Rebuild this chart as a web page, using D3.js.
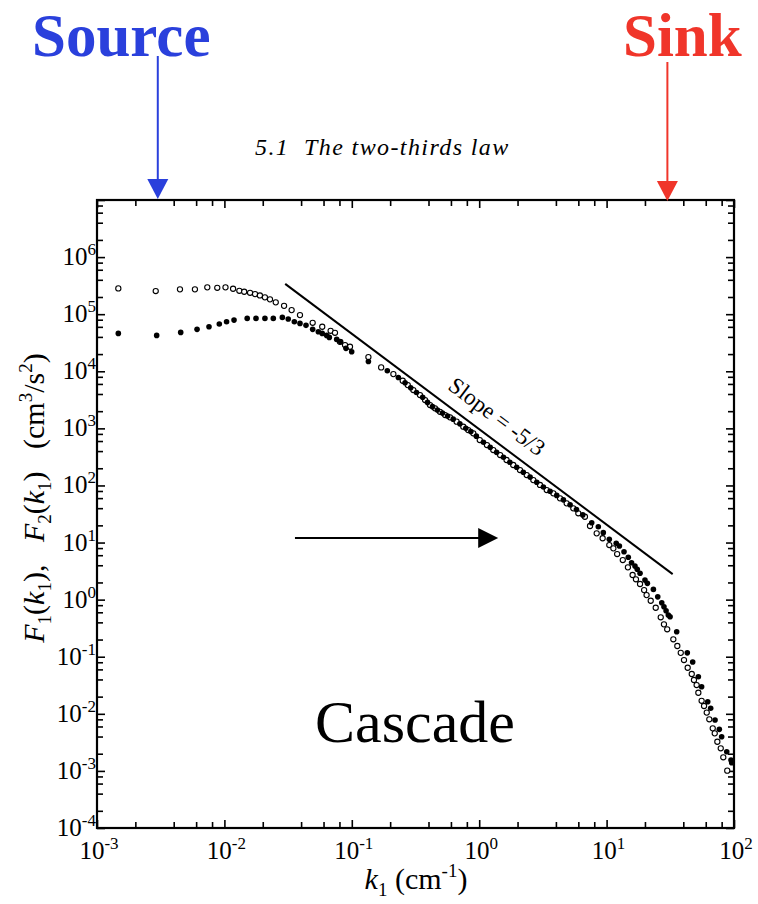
<!DOCTYPE html>
<html><head><meta charset="utf-8">
<script src="https://cdn.jsdelivr.net/npm/d3@7"></script>
<style>
body{margin:0;background:#fff}
svg{display:block}
text{font-family:"Liberation Serif","Times New Roman",serif;fill:#000}
</style>
</head><body>
<svg id="chart" width="758" height="904"></svg>
<script>
// ---------- data ----------
const xDecadeExps = [-3, -2, -1, 0, 1, 2];
const yDecadeExps = [-4, -3, -2, -1, 0, 1, 2, 3, 4, 5, 6];
const minorMultipliers = [2, 4, 6, 8];

// open circles
const openK = [1.47e-3,2.89e-3,4.48e-3,5.87e-3,7.34e-3,8.79e-3,1.02e-2,1.17e-2,1.31e-2,1.43e-2,1.59e-2,1.74e-2,1.90e-2,2.08e-2,2.28e-2,2.53e-2,2.94e-2,3.37e-2,3.92e-2,4.93e-2,5.86e-2,6.82e-2,7.38e-2,8.07e-2,8.85e-2,9.68e-2,
  0.135,0.170,0.212,0.251,0.275,0.304,0.343,0.376,0.411,0.450,0.492,0.540,0.590,0.665,0.750,0.820,0.899,1.01,1.15,1.29,1.46,1.64,1.85,2.09,2.36,2.66,3.00,3.39,3.82,4.31,4.86,5.48,6.00,
  6.76,7.41,8.36,9.31,10.5,11.3,12.1,13.4,14.7,16.0,17.0,18.3,19.7,20.6,22.2,24.3,26.6,28.2,29.9,33.4,35.9,38.2,40.5,43.3,46.6,48.5,50.9,52.5,55.7,58.2,61.1,64.0,68.1,70.6,74.0,78.7,82.4,88.5];
const openF = [2.83e5,2.54e5,2.72e5,2.72e5,2.95e5,2.90e5,2.95e5,2.79e5,2.57e5,2.47e5,2.37e5,2.25e5,2.13e5,1.97e5,1.82e5,1.61e5,1.40e5,1.18e5,9.64e4,7.07e4,6.02e4,5.12e4,4.72e4,3.28e4,2.88e4,2.69e4,
  1.77e4,1.17e4,8.93e3,6.82e3,5.73e3,4.69e3,3.83e3,3.13e3,2.56e3,2.24e3,1.95e3,1.71e3,1.56e3,1.31e3,1.07e3,933,817,624,510,417,341,279,228,186,152,124,102,83,72.8,59.4,48.6,39.7,32.5,
  28.3,19.5,14.5,11.9,9.04,7.91,6.29,4.94,3.68,2.70,2.27,1.88,1.47,1.20,0.957,0.721,0.490,0.369,0.302,0.202,0.154,0.117,0.0875,0.0641,0.0498,0.0391,0.0319,0.0234,0.0169,0.0137,0.0105,8.01e-3,5.57e-3,4.55e-3,3.24e-3,2.49e-3,1.73e-3,1.01e-3];

// filled circles
const filledK = [1.47e-3,2.94e-3,4.54e-3,6.10e-3,7.57e-3,9.12e-3,1.04e-2,1.19e-2,1.51e-2,1.77e-2,2.08e-2,2.42e-2,2.85e-2,3.17e-2,3.54e-2,3.92e-2,4.37e-2,4.93e-2,5.46e-2,5.86e-2,6.35e-2,6.66e-2,7.61e-2,8.18e-2,9.00e-2,9.98e-2,
  0.135,0.190,0.232,0.262,0.290,0.322,0.360,0.393,0.430,0.470,0.515,0.565,0.625,0.705,0.785,0.86,0.95,1.08,1.22,1.37,1.55,1.74,1.97,2.22,2.51,2.83,3.19,3.60,4.06,4.58,5.17,5.80,6.5,
  7.64,8.61,9.42,10.5,11.9,12.6,13.7,14.8,15.7,16.7,17.4,18.3,20.0,20.9,23.3,25.2,27.1,28.2,29.3,30.5,31.5,35.5,43.0,47.4,52.5,55.7,62.2,65.6,71.0,76.7,80.0,87.7,94.7,95.9];
const filledF = [4.61e4,4.25e4,4.80e4,5.42e4,6.02e4,6.71e4,7.36e4,7.88e4,8.44e4,8.44e4,8.44e4,8.44e4,8.79e4,8.21e4,7.36e4,6.90e4,6.37e4,5.42e4,4.92e4,4.61e4,4.25e4,3.92e4,3.62e4,3.29e4,2.52e4,2.20e4,
  1.48e4,1.02e4,7.8e3,6.3e3,5.15e3,4.25e3,3.5e3,2.85e3,2.4e3,2.1e3,1.85e3,1.65e3,1.45e3,1.2e3,1.0e3,880,730,570,465,380,312,255,208,170,140,114,94,79,67,56,46,38,30.5,
  22.2,18.9,14.9,11.4,9.68,8.69,6.90,5.51,4.43,3.87,3.40,2.89,2.20,1.93,1.51,1.12,0.883,0.751,0.640,0.537,0.501,0.274,0.117,0.0808,0.0447,0.0298,0.0163,0.0125,7.79e-3,5.35e-3,3.97e-3,2.17e-3,1.55e-3,1.39e-3];

// slope -5/3 reference line end points
const slopeK = [0.03, 33];
const slopeF = [3.4e5, 2.8];

// annotations
const sourceK = 3e-3, sinkK = 30;
const cascadeK = [0.0358, 1.41], cascadeF = 12;

// ---------- chart ----------
const svg = d3.select("#chart");
const x = d3.scaleLog().domain([1e-3, 1e2]).range([97, 734]);
const y = d3.scaleLog().domain([1e-4, 1e7]).range([828, 200]);
const [x0, x1] = x.range();
const [y0, y1] = y.range();

const majorX = xDecadeExps.map(e => Math.pow(10, e));
const minorX = [];
xDecadeExps.slice(0, -1).forEach(e => minorMultipliers.forEach(m => minorX.push(m * Math.pow(10, e))));
const yAllExps = yDecadeExps.concat([7]);
const majorY = yAllExps.map(e => Math.pow(10, e));
const minorY = [];
yAllExps.slice(0, -1).forEach(e => minorMultipliers.forEach(m => minorY.push(m * Math.pow(10, e))));

function drawAxis(axisFn, scale, values, size, transform) {
  const g = svg.append("g").attr("transform", transform)
    .call(axisFn(scale).tickValues(values).tickSize(-size).tickSizeOuter(0).tickFormat(""));
  g.select(".domain").remove();
  g.selectAll(".tick line").attr("stroke", "#000").attr("stroke-width", 1.6);
}
// ticks, inward on all four sides
drawAxis(d3.axisBottom, x, majorX, 8, `translate(0,${y0})`);
drawAxis(d3.axisBottom, x, minorX, 6, `translate(0,${y0})`);
drawAxis(d3.axisTop, x, majorX, 8, `translate(0,${y1})`);
drawAxis(d3.axisTop, x, minorX, 6, `translate(0,${y1})`);
drawAxis(d3.axisLeft, y, majorY, 8, `translate(${x0},0)`);
drawAxis(d3.axisLeft, y, minorY, 6, `translate(${x0},0)`);
drawAxis(d3.axisRight, y, majorY, 8, `translate(${x1},0)`);
drawAxis(d3.axisRight, y, minorY, 6, `translate(${x1},0)`);

// frame
svg.append("rect").attr("x", x0).attr("y", y1).attr("width", x1 - x0).attr("height", y0 - y1)
  .attr("fill", "none").attr("stroke", "#000").attr("stroke-width", 2.2);

// tick labels
function powLabel(g, exp) {
  g.append("tspan").text("10");
  g.append("tspan").attr("dy", -10).attr("font-size", 17).text(String(exp));
}
xDecadeExps.forEach(e => {
  const t = svg.append("text").attr("x", x(Math.pow(10, e)) + 2).attr("y", 859)
    .attr("text-anchor", "middle").attr("font-size", 25);
  powLabel(t, e);
});
yDecadeExps.forEach(e => {
  const t = svg.append("text").attr("x", 96).attr("y", y(Math.pow(10, e)) + 8)
    .attr("text-anchor", "end").attr("font-size", 25);
  powLabel(t, e);
});

// axis titles
const xt = svg.append("text").attr("x", 416).attr("y", 889).attr("text-anchor", "middle")
  .attr("font-size", 30).style("white-space", "pre");
xt.append("tspan").attr("font-style", "italic").text("k");
xt.append("tspan").attr("font-size", 19).attr("dy", 7).text("1");
xt.append("tspan").attr("dy", -7).text(" (cm");
xt.append("tspan").attr("font-size", 19).attr("dy", -12).text("-1");
xt.append("tspan").attr("dy", 12).text(")");

const yt = svg.append("text").attr("transform", "translate(44,498) rotate(-90)")
  .attr("text-anchor", "middle").attr("font-size", 30).style("white-space", "pre");
function sub(t, s) { t.append("tspan").attr("font-size", 19).attr("dy", 7).text(s); }
function sup(t, s) { t.append("tspan").attr("font-size", 19).attr("dy", -12).text(s); }
yt.append("tspan").attr("font-style", "italic").text("F");
sub(yt, "1");
yt.append("tspan").attr("dy", -7).text("(");
yt.append("tspan").attr("font-style", "italic").text("k");
sub(yt, "1");
yt.append("tspan").attr("dy", -7).text("),   ");
yt.append("tspan").attr("font-style", "italic").text("F");
sub(yt, "2");
yt.append("tspan").attr("dy", -7).text("(");
yt.append("tspan").attr("font-style", "italic").text("k");
sub(yt, "1");
yt.append("tspan").attr("dy", -7).text(")   (cm");
sup(yt, "3");
yt.append("tspan").attr("dy", 12).text("/s");
sup(yt, "2");
yt.append("tspan").attr("dy", 12).text(")");

// header text
svg.append("text").attr("x", 255).attr("y", 155).attr("font-size", 24).attr("font-style", "italic")
  .attr("letter-spacing", 1.4).style("white-space", "pre")
  .text("5.1  The two-thirds law");

// Source / Sink
const blue = "#2a40dc", red = "#f0352a";
svg.append("text").attr("x", 32).attr("y", 56).attr("font-size", 61).attr("font-weight", "bold")
  .style("fill", blue).text("Source");
svg.append("text").attr("x", 623).attr("y", 56).attr("font-size", 61).attr("font-weight", "bold")
  .style("fill", red).text("Sink");

function vArrow(cx, yTop, yTip, color) {
  svg.append("line").attr("x1", cx).attr("x2", cx).attr("y1", yTop).attr("y2", yTip - 16)
    .attr("stroke", color).attr("stroke-width", 2);
  svg.append("path").attr("d", `M${cx - 10.5},${yTip - 20}L${cx + 10.5},${yTip - 20}L${cx},${yTip}Z`).attr("fill", color);
}
vArrow(x(sourceK), 56, y1 - 1, blue);
vArrow(x(sinkK), 62, y1 + 1, red);

// data points
const openData = openK.map((k, i) => ({k, f: openF[i]}));
const filledData = filledK.map((k, i) => ({k, f: filledF[i]}));
const plot = svg.append("g");
plot.selectAll("circle.open").data(openData).join("circle").attr("class", "open")
  .attr("cx", d => x(d.k)).attr("cy", d => y(d.f)).attr("r", 2.6)
  .attr("fill", "#fff").attr("stroke", "#000").attr("stroke-width", 1.1);
plot.selectAll("circle.filled").data(filledData).join("circle").attr("class", "filled")
  .attr("cx", d => x(d.k)).attr("cy", d => y(d.f)).attr("r", 2.8).attr("fill", "#000");

// slope line
svg.append("line").attr("x1", x(slopeK[0])).attr("y1", y(slopeF[0]))
  .attr("x2", x(slopeK[1])).attr("y2", y(slopeF[1])).attr("stroke", "#000").attr("stroke-width", 2);
const ang = Math.atan2(y(slopeF[1]) - y(slopeF[0]), x(slopeK[1]) - x(slopeK[0])) * 180 / Math.PI;
const tk = 1.1; // k along the line where the label is centred
const tf = slopeF[0] * Math.pow(tk / slopeK[0], Math.log(slopeF[1] / slopeF[0]) / Math.log(slopeK[1] / slopeK[0]));
svg.append("text").attr("transform", `translate(${x(tk)},${y(tf)}) rotate(${ang})`)
  .attr("text-anchor", "middle").attr("dy", -13).attr("font-size", 23).text("Slope = -5/3");

// cascade arrow
const ca0 = x(cascadeK[0]), ca1 = x(cascadeK[1]), cy = y(cascadeF);
svg.append("line").attr("x1", ca0).attr("x2", ca1 - 18).attr("y1", cy).attr("y2", cy)
  .attr("stroke", "#000").attr("stroke-width", 2);
svg.append("path").attr("d", `M${ca1 - 20},${cy - 10}L${ca1},${cy}L${ca1 - 20},${cy + 10}Z`).attr("fill", "#000");
svg.append("text").attr("x", 315).attr("y", 742).attr("font-size", 60).text("Cascade");
</script>
</body></html>
